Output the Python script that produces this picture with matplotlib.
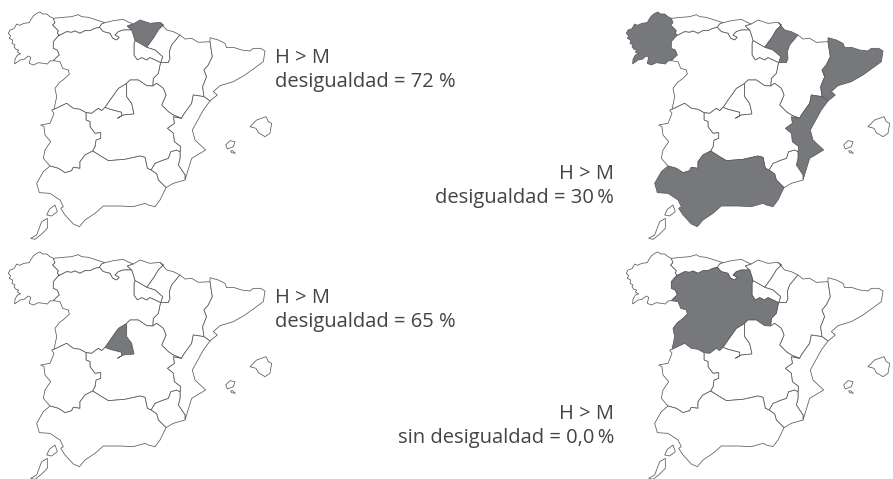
import matplotlib
matplotlib.use("Agg")
import matplotlib.pyplot as plt
from matplotlib.patches import Polygon

plt.rcParams['font.family'] = ['Open Sans', 'DejaVu Sans']

# borders, in 3x pixels of the top left map
gal_coast = [(160,55),(150,50),(140,42),(128,42),(120,36),(110,40),(100,48),(92,60),(88,68),(72,70),(58,76),(50,72),(42,86),(30,90),(25,100),(32,108),(28,115),(38,120),(36,130),(45,135),(42,140),(48,148),(56,150),(52,156),(62,162),(52,165),(45,178),(44,192),(60,180),(72,178),(85,168),(92,172),(88,190),(100,195),(115,188),(130,190),(142,192),(150,183),(160,182)]
gal_ast = [(160,55),(165,68),(158,75),(168,85),(175,92),(172,100),(178,105),(175,108)]
gal_cyl = [(175,108),(160,125),(160,145),(172,150),(178,165),(170,172),(160,182)]
ast_coast = [(160,55),(190,52),(215,50),(235,44),(245,50),(265,52),(290,60),(315,68)]
ast_cant = [(315,68),(305,72),(298,82)]
ast_cyl = [(175,108),(190,100),(200,95),(215,97),(225,93),(240,100),(255,92),(270,92),(285,85),(298,82)]
cant_coast = [(315,68),(340,62),(370,58),(385,66),(400,72)]
cant_pv = [(400,72),(382,78),(395,90)]
cant_cyl = [(298,82),(310,95),(330,100),(338,115),(350,120),(358,112),(345,105),(355,95),(370,90),(395,90)]
pv_cyl = [(395,90),(400,105),(405,122)]
pv_rioja = [(405,122),(420,130),(440,142)]
pv_coast = [(400,72),(420,60),(450,70),(480,67)]
pv_nav = [(480,67),(490,75),(475,90),(462,112),(440,142)]
nav_rioja = [(440,142),(465,150),(488,170),(482,188)]
nav_coast = [(480,67),(500,90),(520,95),(540,105)]
nav_ara = [(540,105),(515,135),(508,155),(510,175),(505,188),(482,188)]
rioja_cyl = [(405,122),(402,130),(402,165),(412,180),(425,173),(440,180),(450,173),(465,180),(482,188)]
ara_cyl = [(482,188),(480,195),(475,220),(460,235),(458,258)]
ara_north = [(540,105),(555,117),(575,115),(595,127),(630,125)]
ara_cat = [(630,125),(637,170),(625,195),(612,210),(620,230),(608,260),(612,290)]
ara_val = [(612,290),(580,285),(575,310),(550,345),(545,355)]
ara_clm = [(545,355),(520,345),(505,335),(485,315),(498,285),(490,265),(470,250),(458,258)]
cat_coast = [(630,125),(630,113),(655,120),(675,130),(680,143),(700,142),(725,150),(750,153),(760,145),(782,145),(795,153),(790,185),(735,225),(700,245),(660,257),(640,275),(652,285),(630,303)]
cat_val = [(630,303),(612,290)]
val_coast = [(630,303),(610,330),(577,390),(585,420),(617,450),(575,475),(555,540)]
val_clm = [(545,355),(520,350),(523,370),(502,385),(520,400),(523,425),(542,440),(540,455)]
val_mur = [(540,455),(540,475),(535,495),(555,525),(555,540)]
mur_clm = [(540,455),(530,450),(512,455),(505,475),(490,480),(465,490),(453,510)]
mur_and = [(453,510),(470,522),(475,540),(498,563)]
mur_coast = [(498,563),(520,550),(555,540)]
cyl_madrid = [(380,250),(355,265),(330,300),(315,322)]
madrid_clm = [(315,322),(330,328),(365,337),(365,347),(352,355),(370,345),(402,342),(395,310),(380,290),(380,250)]
cyl_clm_top = [(458,258),(440,257),(415,240),(390,240),(380,250)]
cyl_clm_west = [(258,338),(275,340),(295,325),(305,332),(315,322)]
ext_cyl = [(162,328),(200,310),(220,325),(240,328),(258,338)]
cyl_port = [(160,182),(180,185),(188,205),(205,210),(208,222),(195,235),(178,248),(165,265),(170,290),(162,328)]
ext_clm = [(258,338),(258,360),(270,365),(270,380),(285,400),(302,398),(302,415),(288,420),(285,440),(278,453)]
ext_and = [(278,453),(255,465),(240,485),(240,505),(220,502),(215,512),(195,518),(175,505),(150,498)]
ext_port = [(150,498),(130,475),(135,450),(152,425),(135,405),(132,380),(122,375),(150,370),(162,340),(155,330),(162,328)]
clm_and = [(278,453),(305,470),(325,482),(375,478),(420,468),(435,472),(442,505),(453,510)]
and_coast = [(150,498),(130,515),(110,550),(118,578),(150,580),(180,600),(190,620),(182,625),(195,645),(220,672),(238,680),(255,660),(285,640),(310,618),(360,618),(400,620),(435,610),(445,615),(465,620),(480,600),(498,563)]

mallorca = [(750,380),(770,360),(798,350),(805,365),(815,370),(810,400),(795,410),(775,398),(768,385)]
ibiza = [(677,435),(690,422),(705,425),(700,440),(682,447)]
formentera = [(692,453),(698,452),(706,460),(695,458)]
lanzarote = [(140,645),(148,628),(165,615),(172,635),(155,648)]
fuerteventura = [(92,715),(110,705),(125,665),(142,655),(142,685),(122,705),(105,718)]


def rev(seg):
    return seg[::-1]


galicia = gal_coast + rev(gal_cyl) + rev(gal_ast)
asturias = ast_coast + ast_cant + rev(ast_cyl) + rev(gal_ast)
cantabria = cant_coast + cant_pv + rev(cant_cyl) + rev(ast_cant)
pais_vasco = pv_coast + pv_nav + rev(pv_rioja) + rev(pv_cyl) + rev(cant_pv)
navarra = nav_coast + nav_ara + rev(nav_rioja) + rev(pv_nav)
la_rioja = pv_rioja + nav_rioja + rev(rioja_cyl)
aragon = ara_north + ara_cat + ara_val + ara_clm + rev(ara_cyl) + rev(nav_ara)
cataluna = cat_coast + cat_val + rev(ara_cat)
valencia = val_coast + rev(val_mur) + rev(val_clm) + rev(ara_val) + rev(cat_val)
murcia = val_mur + rev(mur_coast) + rev(mur_and) + rev(mur_clm)
madrid = cyl_madrid + madrid_clm
castilla_leon = ast_cyl + cant_cyl + pv_cyl + rioja_cyl + ara_cyl + cyl_clm_top + cyl_madrid + rev(cyl_clm_west) + rev(ext_cyl) + rev(cyl_port) + rev(gal_cyl)
extremadura = ext_cyl + ext_clm + ext_and + ext_port
castilla_mancha = cyl_clm_west + madrid_clm + rev(cyl_clm_top) + rev(ara_clm) + val_clm + mur_clm + rev(clm_and) + rev(ext_clm)
andalucia = and_coast + rev(mur_and) + rev(clm_and) + ext_and

regions = [galicia, asturias, cantabria, pais_vasco, navarra, la_rioja, aragon, cataluna, valencia,
           murcia, madrid, castilla_leon, castilla_mancha, extremadura, andalucia, mallorca, ibiza,
           formentera, lanzarote, fuerteventura]

# which regions are shaded on each map
shaded_1 = [pais_vasco]
shaded_2 = [galicia, navarra, cataluna, valencia, andalucia]
shaded_3 = [madrid]
shaded_4 = [castilla_leon]

labels_1 = ["H > M", "desigualdad = 72 %"]
labels_2 = ["H > M", "desigualdad = 30\u2009%"]
labels_3 = ["H > M", "desigualdad = 65 %"]
labels_4 = ["H > M", "sin desigualdad = 0,0\u2009%"]


def draw_map(ax, shaded, dx, dy):
    for region in regions:
        pts = [(x / 3 + dx, y / 3 + dy) for x, y in region]
        color = '#77787b' if any(region is s for s in shaded) else 'white'
        ax.add_patch(Polygon(pts, closed=True, facecolor=color, edgecolor='#5a5a5a', linewidth=0.55))


fig = plt.figure(figsize=(8.93, 4.79), dpi=100)
ax = fig.add_axes([0, 0, 1, 1])
ax.set_xlim(0, 893)
ax.set_ylim(479, 0)
ax.axis('off')

draw_map(ax, shaded_1, 0, 0)
draw_map(ax, shaded_2, 618, 0)
draw_map(ax, shaded_3, 0, 240)
draw_map(ax, shaded_4, 618, 240)

size = 14.5
grey = '#444444'
ax.text(275, 63, labels_1[0], fontsize=size, color=grey, va='baseline')
ax.text(275, 87, labels_1[1], fontsize=size, color=grey, va='baseline')
ax.text(614, 179, labels_2[0], fontsize=size, color=grey, ha='right', va='baseline')
ax.text(614, 203, labels_2[1], fontsize=size, color=grey, ha='right', va='baseline')
ax.text(275, 303, labels_3[0], fontsize=size, color=grey, va='baseline')
ax.text(275, 327, labels_3[1], fontsize=size, color=grey, va='baseline')
ax.text(614, 419, labels_4[0], fontsize=size, color=grey, ha='right', va='baseline')
ax.text(614, 443, labels_4[1], fontsize=size, color=grey, ha='right', va='baseline')

fig.savefig('out.png', dpi=100)
